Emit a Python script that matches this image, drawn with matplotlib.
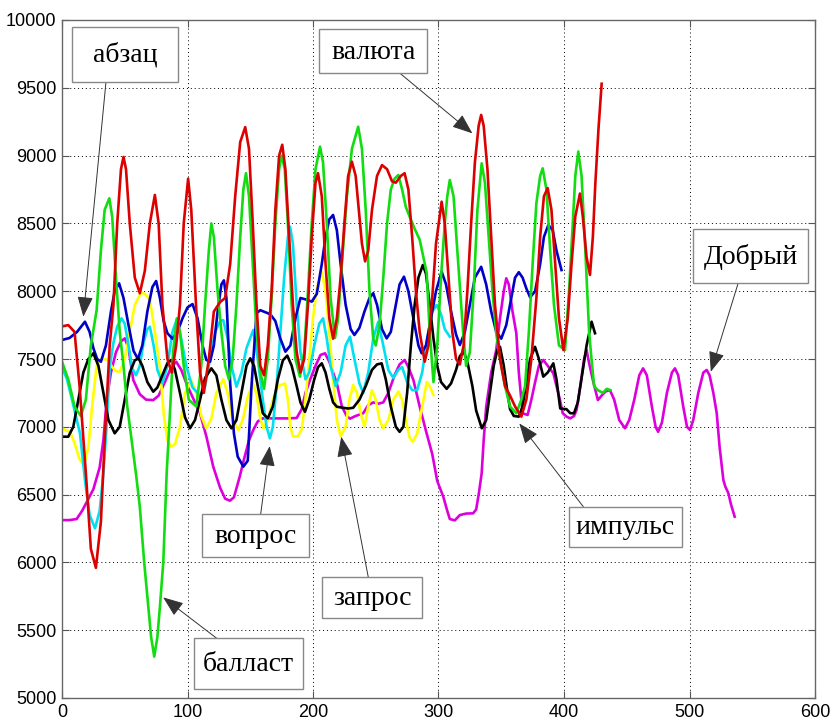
import matplotlib
matplotlib.use("Agg")
import matplotlib.pyplot as plt
from matplotlib.patches import Rectangle

# ---------------- data ----------------
red_x = [0, 5, 10, 14, 19, 23, 27, 31, 34, 38, 41, 44, 47, 49, 51, 54, 58, 62, 66, 70, 74, 77, 80, 84, 87.5,
         91, 94, 97, 100.5, 103, 107, 110, 113, 117, 121, 126, 130, 134, 138, 142, 146, 149, 152, 155, 158,
         161, 164, 167, 170, 173, 175.5, 178, 181, 184, 187, 190, 193, 196, 199, 202, 204, 207, 210, 213,
         216, 219, 222, 225, 228, 231, 234, 237, 239, 241.5, 244, 247, 251, 255, 259, 263, 266, 270, 273,
         276, 279, 282, 285, 289, 292, 295, 298, 302.5, 305, 308, 311, 314, 317, 320, 323, 326, 329, 332,
         334, 336, 339, 342, 345, 349, 353, 357, 361, 366, 370, 374, 378, 381, 384, 387, 390, 393, 396,
         399.5, 403, 406, 409, 412.7, 415, 418, 420.7, 423, 425, 427.5, 430]
red_y = [7740, 7750, 7700, 7300, 6660, 6100, 5960, 6300, 6900, 7600, 7900, 8500, 8900, 8990, 8900, 8500,
         8100, 7985, 8150, 8500, 8710, 8500, 7900, 7500, 7400, 7600, 7900, 8500, 8830, 8600, 7860, 7400,
         7250, 7500, 7850, 7920, 7950, 8200, 8700, 9100, 9210, 9050, 8500, 7900, 7450, 7380, 7600, 8000,
         8600, 9000, 9080, 8900, 8400, 7900, 7550, 7400, 7500, 7900, 8400, 8800, 8870, 8700, 8200, 7800,
         7650, 7800, 8100, 8500, 8850, 8955, 8850, 8550, 8350, 8220, 8300, 8600, 8850, 8930, 8900, 8810,
         8800, 8850, 8870, 8750, 8400, 8000, 7700, 7480, 7600, 7950, 8350, 8660, 8500, 8100, 7700, 7500,
         7460, 7600, 8000, 8500, 8950, 9220, 9300, 9220, 8900, 8400, 7900, 7500, 7300, 7230, 7150, 7075,
         7200, 7500, 7950, 8400, 8700, 8760, 8600, 8200, 7800, 7566, 7800, 8200, 8550, 8720, 8550, 8250,
         8120, 8400, 8800, 9200, 9530]

green_x = [0, 5, 10, 15, 19, 23, 27.6, 31, 34, 37.7, 40, 43, 46, 49, 52, 55.5, 59, 62, 65.5, 68.8, 71,
           73.5, 76, 78, 80.7, 83.4, 86, 88.5, 91.5, 94, 97, 101, 107, 111, 114, 117, 119, 121, 124, 127,
           130, 133, 136, 139, 142, 144.5, 146.6, 149, 152, 155, 158, 161, 164, 167, 170, 173, 175, 177.5,
           180, 183, 186, 189.6, 193, 196, 199, 202, 205.6, 208, 211, 214, 217.5, 220, 223, 227, 231, 236,
           239, 242, 245, 248, 250, 253, 256, 259, 262, 265, 268, 271, 274, 277, 281, 285, 288, 290.6, 293,
           296, 299, 302, 305, 307, 309, 312, 315, 319.6, 322, 325, 328, 331, 334.4, 337, 340, 343, 346,
           349, 353, 357, 362, 366, 369, 372, 375, 378, 381, 383, 386, 389, 392, 396, 400.8, 404, 407,
           409, 411.4, 414, 417, 420, 422, 424, 427, 431, 434, 437]
green_y = [7480, 7350, 7150, 7080, 7200, 7600, 7860, 8300, 8600, 8685, 8550, 8100, 7700, 7450, 7150, 6900,
           6650, 6410, 6000, 5670, 5450, 5305, 5450, 5670, 6000, 6657, 7100, 7550, 7800, 7700, 7450, 7200,
           7150, 7450, 7900, 8300, 8500, 8400, 8000, 7700, 7450, 7350, 7500, 7900, 8400, 8750, 8870, 8700,
           8200, 7700, 7400, 7280, 7500, 7950, 8500, 8900, 9000, 8900, 8500, 7900, 7500, 7370, 7550, 8000,
           8500, 8900, 9066, 8950, 8500, 7950, 7655, 7800, 8200, 8700, 9050, 9213, 9050, 8600, 8000, 7650,
           7600, 7750, 8100, 8500, 8750, 8830, 8857, 8750, 8620, 8550, 8460, 8380, 8250, 8135, 7700, 7330,
           7600, 8100, 8500, 8700, 8820, 8700, 8300, 7700, 7450, 7550, 8000, 8600, 8943, 8800, 8400, 8000,
           7690, 7500, 7300, 7150, 7100, 7200, 7300, 7700, 8200, 8650, 8850, 8906, 8750, 8300, 7900, 7600,
           7566, 8000, 8500, 8850, 9030, 8850, 8300, 7700, 7490, 7300, 7270, 7250, 7280, 7270]

blue_x = [0, 6, 12, 18.3, 22, 25, 28, 31, 35, 39, 42, 45.5, 49, 53, 57, 60.5, 64, 68, 72, 75, 78, 81, 84,
          88, 92, 96, 100, 104, 108, 112, 115, 118, 121, 124, 127, 129, 131, 134, 137, 140, 144.5, 148,
          151, 155, 158, 162, 166, 170, 174, 178, 182, 186, 190, 194, 199, 203, 207, 210, 213, 216, 219,
          222, 226, 230, 233, 237, 241, 245, 248, 251, 255, 258.7, 262, 266, 269, 272.5, 276, 280, 284,
          286.6, 290, 294, 298, 302.5, 306, 310, 314, 317, 321, 325, 329, 334, 338, 342, 346, 350, 354,
          358, 361, 364, 367, 370, 373, 377, 381, 384, 387.5, 391, 394, 398]
blue_y = [7640, 7655, 7700, 7775, 7700, 7580, 7500, 7480, 7600, 7850, 8000, 8058, 7950, 7750, 7560, 7500,
          7600, 7850, 8030, 8075, 7950, 7780, 7690, 7650, 7700, 7800, 7880, 7905, 7800, 7600, 7493, 7480,
          7600, 7850, 8050, 8080, 7950, 7320, 6950, 6780, 6706, 6750, 7300, 7837, 7860, 7845, 7830, 7780,
          7650, 7554, 7600, 7800, 7950, 7940, 7923, 7980, 8200, 8400, 8530, 8562, 8450, 8200, 7900, 7720,
          7677, 7730, 7850, 7950, 7985, 7900, 7720, 7652, 7700, 7900, 8050, 8107, 8000, 7800, 7600, 7542,
          7600, 7800, 8000, 8144, 8050, 7850, 7680, 7603, 7700, 7900, 8100, 8180, 8050, 7850, 7700, 7650,
          7750, 7950, 8100, 8140, 8100, 8020, 7955, 8000, 8200, 8400, 8488, 8450, 8300, 8156]

black_x = [0, 5, 9, 13, 17, 21, 25, 29, 33, 37, 42, 46, 50, 54, 58, 61, 64, 68, 72.7, 76, 80, 84, 87, 90,
           94, 98, 102, 106, 110, 114, 119, 123, 127, 131, 135, 139, 143, 147, 150, 153, 157, 160, 164,
           168, 172, 176, 179.5, 183, 187, 190, 193.6, 197, 201, 204, 207, 210, 213, 216, 219, 224, 228,
           232, 237, 242, 247, 251, 254.7, 258, 262, 266, 269, 272, 275, 278, 281, 284, 287.5, 290, 293,
           296, 299, 302, 306.5, 310, 314, 317, 320, 323, 327, 330, 334.5, 338, 341, 344, 347, 349, 352,
           355, 357, 360, 364, 367, 370, 373, 376.9, 380, 383.5, 387, 391.5, 394, 397, 402, 405, 408, 411,
           415, 418, 422, 424.7]
black_y = [6927, 6927, 7000, 7200, 7400, 7500, 7542, 7450, 7250, 7050, 6952, 7000, 7200, 7400, 7490, 7505,
           7450, 7330, 7259, 7290, 7380, 7470, 7493, 7420, 7250, 7070, 6989, 7050, 7200, 7360, 7431, 7380,
           7200, 7050, 6989, 7050, 7250, 7450, 7505, 7450, 7250, 7100, 7062, 7150, 7350, 7490, 7525, 7450,
           7300, 7180, 7110, 7200, 7350, 7440, 7468, 7400, 7280, 7180, 7148, 7140, 7135, 7140, 7200, 7300,
           7420, 7460, 7468, 7350, 7150, 7000, 6963, 7000, 7250, 7600, 7900, 8100, 8193, 8130, 7900, 7650,
           7450, 7330, 7280, 7320, 7420, 7520, 7555, 7480, 7300, 7120, 6989, 7050, 7250, 7450, 7570, 7590,
           7450, 7250, 7130, 7080, 7075, 7150, 7330, 7500, 7590, 7500, 7370, 7400, 7468, 7350, 7135, 7130,
           7100, 7100, 7180, 7419, 7600, 7775, 7690]

cyan_x = [0, 4, 8, 11, 14.3, 18.3, 22, 26.3, 30, 33, 35.5, 38, 41, 44, 47.5, 50, 53, 56, 59, 62, 65, 68,
          70, 73, 76, 80, 84, 88, 91.4, 95, 99, 104, 110, 114, 118, 122, 126, 128.5, 132, 135, 139, 143,
          147, 152.4, 156, 160, 163, 165.7, 168, 171, 174, 177, 180, 181.7, 184, 187, 190, 194, 197, 201,
          205, 208, 211, 214, 218, 222, 226, 229.5, 233, 237, 240, 244, 248, 252, 256, 260, 264, 268, 271,
          275, 279, 283, 287, 291, 295, 298.5, 302, 305, 309]
cyan_y = [7440, 7350, 7200, 7080, 6954, 6607, 6350, 6251, 6380, 6660, 7000, 7440, 7620, 7740, 7800, 7760,
          7600, 7430, 7380, 7450, 7620, 7720, 7738, 7600, 7420, 7320, 7450, 7700, 7790, 7650, 7450, 7290,
          7230, 7300, 7500, 7700, 7780, 7787, 7650, 7450, 7296, 7400, 7580, 7714, 7500, 7200, 7000, 6915,
          7000, 7300, 7700, 8100, 8400, 8476, 8350, 7900, 7550, 7350, 7400, 7600, 7760, 7800, 7650, 7450,
          7300, 7400, 7600, 7665, 7500, 7320, 7250, 7400, 7650, 7775, 7600, 7420, 7360, 7420, 7440, 7330,
          7270, 7271, 7400, 7650, 7850, 7898, 7830, 7720, 7665]

yellow_x = [0, 6.6, 10, 14, 17.5, 21, 24, 27.6, 30, 33, 36.7, 40, 43, 46, 50, 54, 58, 63, 66, 70, 74, 78,
            81, 84, 87, 90, 94, 98, 103, 107, 111, 115, 119, 123, 128.5, 132, 136, 140.5, 144, 148, 152,
            155, 158, 160.5, 164, 168, 172, 177.7, 180, 182, 184, 188, 191, 194, 197, 200, 203, 207, 210,
            213, 216, 219, 222, 226, 229, 232, 235, 238, 241, 244, 247, 250, 253, 256, 260, 264, 268, 271,
            274, 277, 279.5, 283, 287, 290.6, 293, 296]
yellow_y = [6989, 6960, 6880, 6760, 6718, 6850, 7150, 7450, 7493, 7500, 7493, 7440, 7410, 7406, 7500, 7700,
            7900, 7990, 7980, 7935, 7700, 7443, 7100, 6900, 6853, 6870, 7000, 7250, 7340, 7250, 7080, 6989,
            7060, 7250, 7350, 7250, 7050, 6976, 7050, 7220, 7320, 7240, 7060, 6989, 7050, 7200, 7300, 7320,
            7200, 7000, 6930, 6930, 6980, 7200, 7500, 7800, 8020, 8144, 8000, 7700, 7350, 7050, 6930, 7000,
            7200, 7308, 7250, 7100, 7000, 7150, 7270, 7200, 7050, 6989, 7050, 7200, 7260, 7200, 7050, 6920,
            6890, 6950, 7150, 7330, 7300, 7234]

magenta_x = [0, 6, 11.7, 16, 20, 25, 30, 33, 35.6, 39, 43, 47, 50, 53, 56.8, 62, 67, 72.7, 77, 82, 87, 91,
             95, 100, 105, 110, 115, 120.5, 126, 130, 133.8, 137, 141.6, 145, 149, 152.4, 156, 160, 170,
             180, 187, 191, 194, 197.6, 202, 206, 209.6, 213, 216, 219, 223, 226.8, 229.5, 234, 240, 244,
             248, 252, 256, 260, 265, 269, 273, 276, 280, 285, 290, 295, 299, 303.8, 307, 309, 313, 317,
             322, 327.6, 330, 332, 334.4, 336, 338, 342, 346, 349, 352, 354, 356, 359, 362, 364, 367, 371,
             374, 377, 380, 383.5, 387, 391.5, 394, 396.8, 399, 402, 405, 408, 410, 413, 416, 418, 420,
             423, 427, 430, 433, 436.6, 440, 444, 448.6, 452, 456, 460, 463, 466, 470, 473, 475, 478, 482,
             486, 488.4, 491, 495, 498, 500.4, 503, 507, 511, 513.7, 516, 519, 521.7, 524, 527, 528.5, 531,
             533, 536]
magenta_y = [6312, 6312, 6320, 6380, 6450, 6540, 6700, 6903, 7197, 7400, 7550, 7630, 7652, 7580, 7345,
             7240, 7200, 7197, 7230, 7330, 7440, 7480, 7420, 7300, 7200, 7100, 6930, 6706, 6550, 6470,
             6455, 6480, 6632, 6760, 6900, 6976, 7040, 7062, 7062, 7062, 7065, 7130, 7250, 7345, 7450,
             7530, 7542, 7480, 7400, 7320, 7150, 7080, 7060, 7080, 7100, 7160, 7180, 7170, 7180, 7250,
             7380, 7460, 7493, 7440, 7345, 7150, 6970, 6800, 6600, 6485, 6380, 6320, 6310, 6349, 6360,
             6362, 6390, 6500, 6657, 6900, 7148, 7400, 7566, 7800, 8000, 8095, 8050, 7850, 7690, 7400,
             7100, 7087, 7200, 7330, 7450, 7493, 7450, 7395, 7300, 7197, 7100, 7075, 7062, 7080, 7124,
             7300, 7500, 7566, 7470, 7345, 7197, 7230, 7260, 7271, 7200, 7050, 6989, 7050, 7200, 7380,
             7431, 7380, 7150, 7000, 6963, 7030, 7250, 7400, 7431, 7380, 7150, 7000, 6976, 7050, 7250,
             7400, 7419, 7380, 7250, 7100, 6850, 6607, 6560, 6510, 6430, 6337]

x_ticks = [0, 100, 200, 300, 400, 500, 600]
y_ticks = [5000, 5500, 6000, 6500, 7000, 7500, 8000, 8500, 9000, 9500, 10000]

labels = ["абзац", "валюта", "Добрый", "вопрос", "запрос", "импульс", "балласт"]
label_tip_x = [17, 327, 517, 165.5, 222.5, 364.4, 80.6]
label_tip_y = [7812, 9164, 7406, 6858, 6927, 7025, 5742]

# ---------------- layout (figure pixels, measured from the top-left) ----------------
W, H = 832, 724
box_px = [(71.7, 26.7, 178.3, 81.7), (319.3, 29.3, 427.3, 73.3), (692.7, 229.3, 808.3, 282.7),
          (201.7, 514.0, 309.3, 556.7), (322.3, 577.3, 422.3, 618.3), (569.3, 507.3, 681.7, 546.7),
          (194.0, 638.3, 303.3, 689.3)]
start_px = [(106, 81.7), (400, 73.3), (738.3, 282.7), (260.7, 514), (368.3, 577.3), (583.3, 506.7),
            (216.7, 638.3)]


def fx(px):
    return px / W


def fy(py):
    return 1 - py / H


fig = plt.figure(figsize=(8.32, 7.24), dpi=100)
ax = fig.add_axes([62 / W, 26 / H, 753 / W, 678 / H])

lw = 1.9
ax.plot(magenta_x, magenta_y, color="#dd00dd", lw=lw)
ax.plot(yellow_x, yellow_y, color="#ffff00", lw=lw)
ax.plot(cyan_x, cyan_y, color="#00e0f0", lw=lw)
ax.plot(blue_x, blue_y, color="#0000c8", lw=lw)
ax.plot(black_x, black_y, color="#000000", lw=lw)
ax.plot(green_x, green_y, color="#11dd11", lw=lw)
ax.plot(red_x, red_y, color="#dd0000", lw=lw)

ax.set_xlim(0, 600)
ax.set_ylim(5000, 10000)
ax.set_xticks(x_ticks)
ax.set_yticks(y_ticks)
ax.set_xticklabels([str(v) for v in x_ticks])
ax.set_yticklabels([str(v) for v in y_ticks])
ax.grid(True, color="black", linestyle=(0, (1, 3)), linewidth=0.7)
ax.tick_params(direction="in", length=5, top=True, right=True, labelsize=13,
               colors="#555555", labelcolor="black", pad=4)
for lab in ax.get_xticklabels() + ax.get_yticklabels():
    lab.set_family("Liberation Sans")
for sp in ax.spines.values():
    sp.set_color("#666666")
    sp.set_linewidth(1.0)

for i, txt in enumerate(labels):
    x0, y0, x1, y1 = box_px[i]
    fig.patches.append(Rectangle((fx(x0), fy(y1)), fx(x1) - fx(x0), fy(y0) - fy(y1),
                                 transform=fig.transFigure, fc="white", ec="#888888", lw=1.0,
                                 zorder=5))
    fig.text(fx((x0 + x1) / 2), fy((y0 + y1) / 2 + 1), txt, ha="center", va="center",
             fontsize=20, family="Liberation Serif", zorder=6)
    sx, sy = start_px[i]
    ax.annotate("", xy=(label_tip_x[i], label_tip_y[i]), xycoords="data",
                xytext=(fx(sx), fy(sy)), textcoords="figure fraction",
                arrowprops=dict(arrowstyle="-|>,head_length=0.9,head_width=0.35", color="#333333",
                                lw=0.7, shrinkA=0, shrinkB=0, mutation_scale=14),
                annotation_clip=False, zorder=7)

fig.savefig("out.png", dpi=100)
